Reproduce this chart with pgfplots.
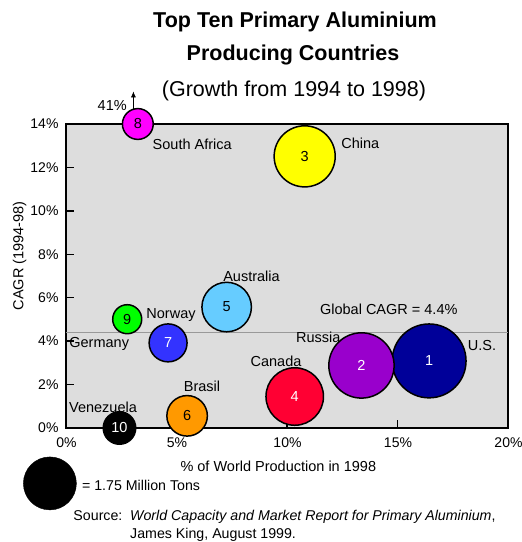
\documentclass[border=0pt]{standalone}
\usepackage{fontspec}
\setmainfont{Liberation Sans}
\usepackage{pgfplots}
\pgfplotsset{compat=1.18}
\usetikzlibrary{arrows.meta}

\newcommand\fs[1]{\fontsize{#1}{#1}\selectfont}

\definecolor{plotbg}{RGB}{221,221,221}
\definecolor{cUS}{RGB}{0,0,153}
\definecolor{cRU}{RGB}{153,0,204}
\definecolor{cCN}{RGB}{255,255,0}
\definecolor{cCA}{RGB}{255,0,51}
\definecolor{cAU}{RGB}{102,204,255}
\definecolor{cBR}{RGB}{255,153,0}
\definecolor{cNO}{RGB}{51,51,255}
\definecolor{cZA}{RGB}{255,0,255}
\definecolor{cDE}{RGB}{0,255,0}
\definecolor{cVE}{RGB}{0,0,0}

% bubble radius (pt) for a production in million tons: 1.75 Mt -> 26.5pt
\newcommand\bubr[1]{26.5*sqrt(#1/1.75)}

% #1 share of world production (%), #2 CAGR (%), #3 production (Mt),
% #4 fill colour, #5 number colour, #6 rank
% growth above the 14% ceiling is drawn on the top edge
\newcommand\bubble[6]{%
  \addplot[forget plot, only marks, mark=*,
    mark size={\bubr{#3}-0.75},
    mark options={draw=black, fill=#4, line width=1.5pt},
    nodes near coords={#6}, nodes near coords align=center,
    every node near coord/.append style={text=#5, font=\fs{14.5}, inner sep=0pt}]
    table[row sep=\\, x=x, y expr={min(\thisrow{y},14)}] {x y\\ #1 #2\\};}

\newcommand\lbl[3]{\node[anchor=base, font=\fs{14.5}, inner sep=0pt] at (#1pt,-#2pt) {#3};}

\begin{document}
\begin{tikzpicture}
\useasboundingbox (0,0) rectangle (522pt,542pt);
\begin{axis}[
  at={(66pt,114pt)}, anchor=south west,
  scale only axis, width=442pt, height=304pt,
  xmin=0, xmax=20, ymin=0, ymax=14,
  xtick={0,5,10,15,20}, ytick={0,2,...,14},
  xtick pos=bottom, ytick pos=left,
  tick align=inside, major tick length=8pt,
  tick style={black, line width=1.5pt},
  axis line style={line width=1.5pt},
  axis background/.style={fill=plotbg},
  clip=false,
  /pgf/number format/assume math mode=true,
  tick label style={font=\fs{14}},
  xticklabel={\pgfmathprintnumber{\tick}\%},
  yticklabel={\pgfmathprintnumber{\tick}\%},
  xticklabel style={yshift=-6pt, xshift=0.5pt},
  yticklabel style={xshift=-4pt},
  legend cell align=left,
  legend style={at={(-0.0973,-0.0938)}, anchor=north west, draw=none,
    fill=none, inner sep=0pt, column sep=3.5pt, font=\fs{14.2},
    nodes={inner sep=2pt}},
]
% size key
\addlegendimage{legend image code/.code={\fill[black] (0pt,3pt) circle (26.5pt);}}
\addlegendentry{= 1.75 Million Tons}

% global average growth
\addplot[forget plot, gray!80, line width=0.8pt] coordinates {(0,4.4) (20,4.4)};

% South Africa is off the scale (41%)
\draw[line width=0.6pt, -{Latex[length=6pt,width=5pt]}] (axis cs:3.05,14.6) -- (axis cs:3.05,15.5);

%        share  CAGR  Mt    fill  text   rank
\bubble{16.43}{3.09}{3.54}{cUS}{white}{1}
\bubble{13.37}{2.88}{2.78}{cRU}{white}{2}
\bubble{10.80}{12.51}{2.44}{cCN}{black}{3}
\bubble{10.35}{1.45}{2.17}{cCA}{white}{4}
\bubble{7.27}{5.57}{1.62}{cAU}{black}{5}
\bubble{5.48}{0.56}{1.10}{cBR}{black}{6}
\bubble{4.62}{3.92}{0.97}{cNO}{white}{7}
\bubble{3.25}{41}{0.65}{cZA}{black}{8}
\bubble{2.77}{5.01}{0.58}{cDE}{black}{9}
\bubble{2.42}{0}{0.72}{cVE}{white}{10}
\end{axis}

\begin{scope}[shift={(0,542pt)}]
% titles
\node[anchor=base, font=\fs{21.5}\bfseries, inner sep=0pt] at (295pt,-27.3pt) {Top Ten Primary Aluminium};
\node[anchor=base, font=\fs{21.5}\bfseries, inner sep=0pt] at (293pt,-61pt) {Producing Countries};
\node[anchor=base, font=\fs{21.5}, inner sep=0pt] at (294pt,-96.7pt) {(Growth from 1994 to 1998)};
% axis titles
\node[anchor=base, font=\fs{14.5}, inner sep=0pt] at (278.3pt,-471.7pt) {\% of World Production in 1998};
\node[anchor=base, rotate=90, font=\fs{14.5}, inner sep=0pt] at (23.3pt,-256pt) {CAGR (1994-98)};
% country names
\lbl{192.2}{150}{South Africa}
\lbl{360.3}{148.3}{China}
\lbl{251.5}{281.7}{Australia}
\lbl{388.8}{315}{Global CAGR = 4.4\%}
\lbl{318.3}{342.3}{Russia}
\lbl{482}{351}{U.S.}
\lbl{276}{366.7}{Canada}
\lbl{171}{319}{Norway}
\lbl{99.2}{347.7}{Germany}
\lbl{202}{391.7}{Brasil}
\lbl{103}{412.7}{Venezuela}
\lbl{112.2}{111}{41\%}
% source
\node[anchor=base west, font=\fs{14.2}, inner sep=0pt] at (73.3pt,-520.7pt) {Source:};
\node[anchor=base west, font=\fs{14.2}, inner sep=0pt] at (130pt,-520.7pt) {\textit{World Capacity and Market Report for Primary Aluminium},};
\node[anchor=base west, font=\fs{14.2}, inner sep=0pt] at (130pt,-538.3pt) {James King, August 1999.};
\end{scope}
\end{tikzpicture}
\end{document}
